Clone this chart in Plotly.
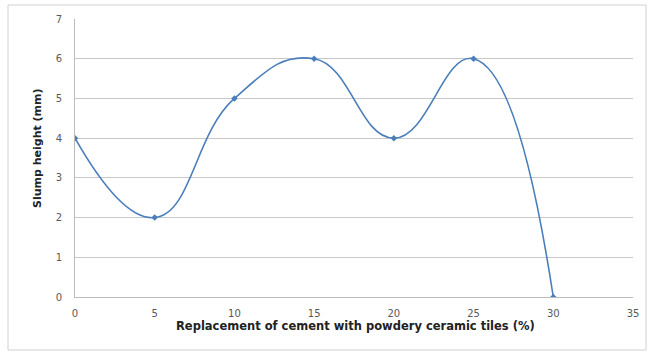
import plotly.graph_objects as go

replacement = [0, 5, 10, 15, 20, 25, 30]
slump = [4, 2, 5, 6, 4, 6, 0]
x_ticks = [0, 5, 10, 15, 20, 25, 30, 35]
y_ticks = [0, 1, 2, 3, 4, 5, 6, 7]

W, H = 649, 356
L, R, T, B = 75, 16, 19, 59
pw, ph = W - L - R, H - T - B

def px(x):
    return (x - L) / pw

def py(y):
    return (H - B - y) / ph

fig = go.Figure()
fig.add_trace(go.Scatter(
    x=replacement, y=slump, mode="lines+markers",
    line=dict(color="#4A7EBB", width=1.6, shape="spline", smoothing=1.3),
    marker=dict(symbol="diamond", size=5, color="#4A7EBB"),
    showlegend=False,
))

fig.update_layout(
    width=W, height=H,
    margin=dict(l=L, r=R, t=T, b=B, autoexpand=False),
    paper_bgcolor="white", plot_bgcolor="white",
    font=dict(family="DejaVu Sans", size=10, color="#595959"),
    xaxis=dict(
        range=[0, 35], tickvals=x_ticks, ticktext=[str(v) for v in x_ticks],
        showgrid=False, zeroline=False, showline=True, linecolor="#BBBBBB", linewidth=1,
        ticks="", ticklen=0, automargin=False, ticklabelstandoff=7,
    ),
    yaxis=dict(
        range=[0, 7], tickvals=y_ticks, ticktext=[str(v) for v in y_ticks],
        showgrid=True, gridcolor="#C8C8C8", gridwidth=1, zeroline=False,
        showline=True, linecolor="#BBBBBB", linewidth=1, ticks="", automargin=False,
        ticklabelstandoff=10,
    ),
    annotations=[
        dict(text="<b>Replacement of cement with powdery ceramic tiles (%)</b>",
             xref="paper", yref="paper", x=px(355), y=py(326), showarrow=False,
             xanchor="center", yanchor="middle",
             font=dict(size=11.5, color="#222222")),
        dict(text="<b>Slump height (mm)</b>", textangle=-90,
             xref="paper", yref="paper", x=px(37), y=py(148), showarrow=False,
             xanchor="center", yanchor="middle",
             font=dict(size=11, color="#222222")),
    ],
    shapes=[dict(type="rect", xref="paper", yref="paper",
                 x0=px(8), x1=px(646), y0=py(5), y1=py(350),
                 line=dict(color="#D0D0D0", width=1), fillcolor="rgba(0,0,0,0)",
                 layer="below")],
)

fig.write_html("out.html", config={"displayModeBar": False},
               post_script="document.body.style.margin='0px';")
